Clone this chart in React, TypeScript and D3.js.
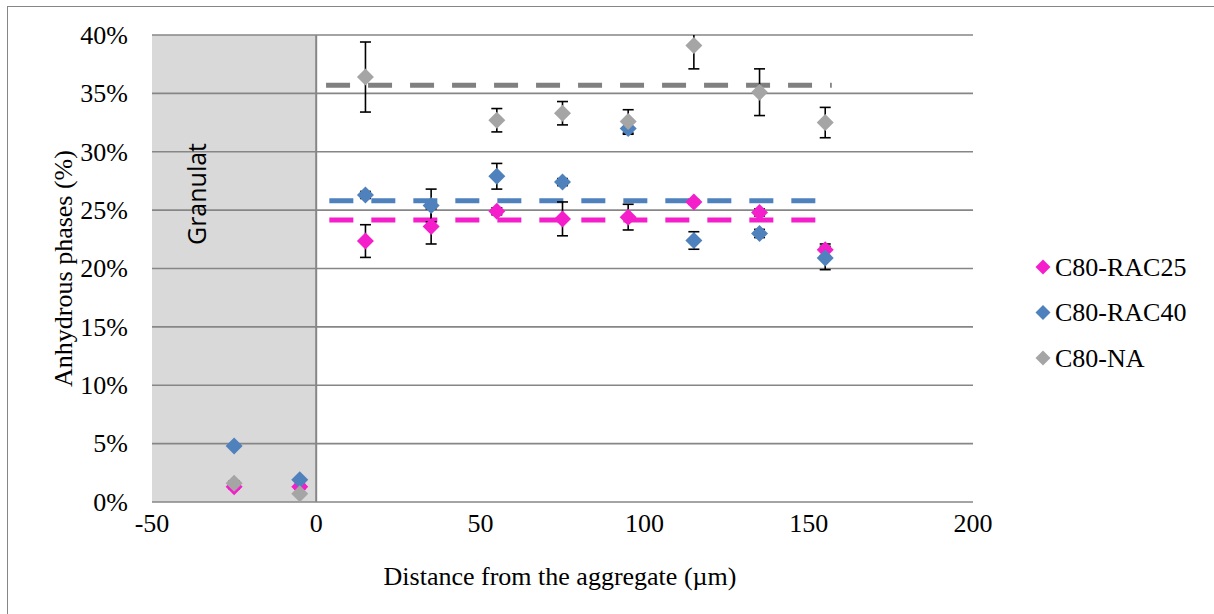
import React from "react";
import * as d3 from "d3";

const distances = [-25, -5, 15, 35, 55, 75, 95, 115, 135, 155];
const rac25 = [1.3, 1.3, 22.35, 23.6, 24.9, 24.25, 24.4, 25.7, 24.8, 21.6];
const rac25Err = [0.2, 0.2, 1.4, 1.5, 0.3, 1.45, 1.1, 0.2, 0.3, 0.5];
const rac40 = [4.8, 1.9, 26.3, 25.4, 27.9, 27.4, 32.0, 22.4, 23.0, 20.9];
const rac40Err = [0.1, 0.1, 0.3, 1.4, 1.1, 0.3, 0.5, 0.75, 0.35, 1.0];
const na = [1.6, 0.7, 36.4, null, 32.7, 33.3, 32.6, 39.1, 35.1, 32.5];
const naErr = [0.2, 0.1, 3.0, 0, 1.0, 1.0, 1.0, 2.0, 2.0, 1.3];

const meanExtents = [
  [4, 156],
  [4, 156],
  [3, 157],
];
const meanRac25 = 24.15;
const meanRac40 = 25.8;
const meanNa = 35.7;

const xTicks = [-50, 0, 50, 100, 150, 200];
const yTicks = [0, 5, 10, 15, 20, 25, 30, 35, 40];
const granulatRange = [-50, 0];

const seriesNames = ["C80-RAC25", "C80-RAC40", "C80-NA"];
const markerColors = ["#F51ECB", "#4F81BD", "#A5A5A5"];
const lineColors = ["#F51ECB", "#4F81BD", "#808080"];

const serif = "'Liberation Serif', 'Times New Roman', serif";

function diamond(cx: number, cy: number, r: number) {
  return `M${cx},${cy - r}L${cx + r},${cy}L${cx},${cy + r}L${cx - r},${cy}Z`;
}

export default function App() {
  const x = d3.scaleLinear().domain([-50, 200]).range([152, 973]);
  const y = d3.scaleLinear().domain([0, 40]).range([502, 35]);

  const series = [
    { vals: rac25, err: rac25Err, mean: meanRac25 },
    { vals: rac40, err: rac40Err, mean: meanRac40 },
    { vals: na, err: naErr, mean: meanNa },
  ];

  const line = d3
    .line<[number, number]>()
    .x((d) => x(d[0]))
    .y((d) => y(d[1]));

  const [yMin, yMax] = y.domain();

  return (
    <div style={{ position: "absolute", left: 0, top: 0 }}>
      <svg width={1214} height={614} style={{ display: "block" }}>
        <rect x={0} y={0} width={1214} height={614} fill="#fff" />
        <rect x={7.5} y={6.5} width={1210} height={614} fill="none" stroke="#868686" strokeWidth={1} />
        <rect
          x={x(granulatRange[0])}
          y={y(yMax)}
          width={x(granulatRange[1]) - x(granulatRange[0])}
          height={y(yMin) - y(yMax)}
          fill="#D9D9D9"
        />
        {yTicks.map((t) => (
          <line key={t} x1={x(-50)} x2={x(200)} y1={y(t)} y2={y(t)} stroke="#868686" strokeWidth={1.6} />
        ))}
        <line x1={x(0)} x2={x(0)} y1={y(yMax)} y2={y(yMin)} stroke="#868686" strokeWidth={2} />
        {yTicks.map((t) => (
          <text key={t} x={128} y={y(t)} dy="0.34em" textAnchor="end" fontFamily={serif} fontSize={26} fill="#000">
            {t}%
          </text>
        ))}
        {xTicks.map((t) => (
          <text key={t} x={x(t)} y={532} textAnchor="middle" fontFamily={serif} fontSize={26} fill="#000">
            {t}
          </text>
        ))}
        <text
          transform={`translate(206,${y(yMax) + 159}) rotate(-90)`}
          textAnchor="middle"
          fontFamily="'Open Sans', 'Noto Sans', sans-serif"
          fontSize={25}
          fill="#000"
        >
          Granulat
        </text>
        {series.map((s, i) => (
          <path
            key={i}
            d={line([
              [meanExtents[i][0], s.mean],
              [meanExtents[i][1], s.mean],
            ]) as string}
            stroke={lineColors[i]}
            strokeWidth={5}
            strokeDasharray="24,18"
            fill="none"
          />
        ))}
        {series.map((s, i) => (
          <g key={i}>
            {s.vals.map((v, j) => {
              if (v === null) return null;
              const e = s.err[j];
              const hi = v + e;
              const lo = v - e;
              const cx = x(distances[j]);
              const yHi = y(Math.min(hi, yMax));
              const yLo = y(lo);
              return (
                <g key={j} stroke="#000" strokeWidth={1.6}>
                  <line x1={cx} x2={cx} y1={yHi} y2={yLo} />
                  {hi <= yMax && <line x1={cx - 5.5} x2={cx + 5.5} y1={yHi} y2={yHi} />}
                  <line x1={cx - 5.5} x2={cx + 5.5} y1={yLo} y2={yLo} />
                </g>
              );
            })}
          </g>
        ))}
        {series.map((s, i) => (
          <g key={i}>
            {s.vals.map((v, j) =>
              v === null ? null : <path key={j} d={diamond(x(distances[j]), y(v), 8.5)} fill={markerColors[i]} />
            )}
          </g>
        ))}
        {seriesNames.map((n, i) => (
          <g key={n}>
            <path d={diamond(1043, 267 + i * 45.5, 7.5)} fill={markerColors[i]} />
            <text x={1055} y={267 + i * 45.5} dy="0.34em" fontFamily={serif} fontSize={26} fill="#000">
              {n}
            </text>
          </g>
        ))}
        <text x={560} y={585} textAnchor="middle" fontFamily={serif} fontSize={26} fill="#000">
          Distance from the aggregate (µm)
        </text>
        <text
          transform={`translate(72,${(y(yMin) + y(yMax)) / 2}) rotate(-90)`}
          textAnchor="middle"
          fontFamily={serif}
          fontSize={26}
          fill="#000"
        >
          Anhydrous phases (%)
        </text>
      </svg>
    </div>
  );
}
